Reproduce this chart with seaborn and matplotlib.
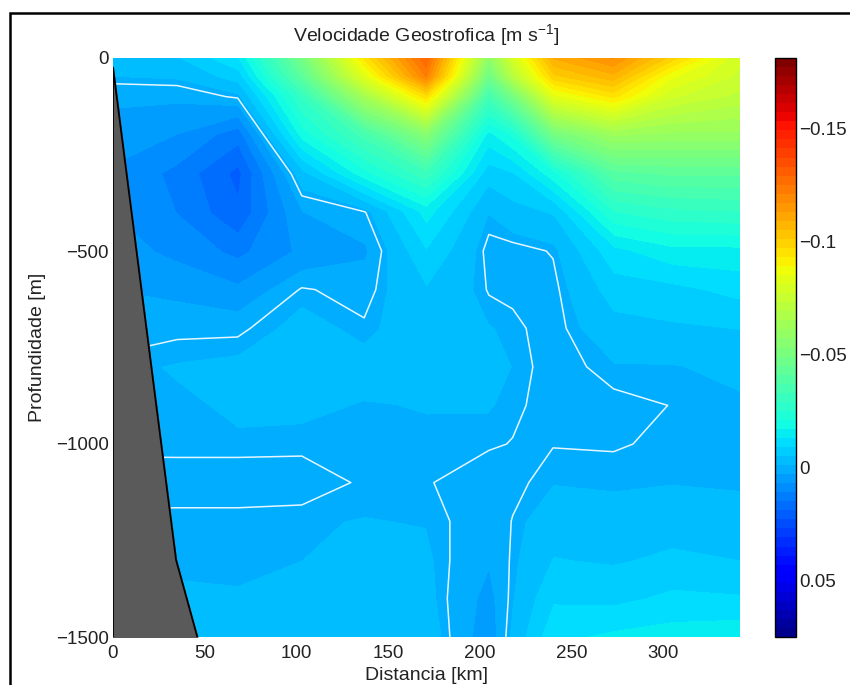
import numpy as np
import matplotlib
matplotlib.use("Agg")
import matplotlib.pyplot as plt
from matplotlib.patches import Rectangle
import seaborn as sns

# Distance of the stations along the section [km]
distance_km = [0, 35, 68, 103, 137, 171, 205, 218, 240, 273, 305, 342]
# Depth levels [m]
depth_m = [0, 50, 100, 200, 300, 400, 500, 600, 700, 800, 900, 1000, 1100, 1200, 1300, 1400, 1500]

# Geostrophic velocity per station [mm/s], one value per depth level
st_000 = [-1.5, -1, 2, 5, 7.5, 7, 5, 3, 1, -0.5, -0.5, -0.5, 1, -0.5, -0.7, -1, -1.5]
st_035 = [-5, -1.5, 2, 7, 12, 11, 8, 4, 0.5, -1.2, -0.7, -0.8, 1.5, -0.8, -0.9, -1.1, -1.5]
st_068 = [-13, -7, -0.5, 13, 20, 18, 12, 6, 0.5, -1.7, -1.3, -0.8, 1.5, -0.8, -0.9, -1.05, -1.6]
st_103 = [-50, -42, -30, -19, -4, 3, 6, -0.3, -2, -2.2, -1.5, -0.5, 1.1, -0.8, -1, -2, -3]
st_137 = [-95, -83, -65, -35, -20, 0.4, 3.5, 1.1, -0.4, -2, -0.9, -0.5, -0.3, -1.1, -2, -3, -4]
st_171 = [-130, -122, -97, -55, -32, -15, -9, -4.8, -3, -2.6, -1.1, -0.7, -0.2, -0.9, -1.5, -2, -3]
st_205 = [-58, -48, -35, -16, -7, -1.2, 0.9, 0.2, -1.2, -2, -1.2, -0.3, 1.5, 1.5, 2.5, 4, 5]
st_218 = [-80, -70, -50, -22, -9, -3.5, 1, 0.5, -0.5, -1, -0.5, 0.1, 0.6, -0.1, -0.4, -0.9, -2]
st_240 = [-110, -100, -84, -49, -20, -5.5, -0.2, 0.8, 1, 1, 1, 0.1, -0.9, -3, -5.2, -8.5, -12]
st_273 = [-118, -108, -95, -62, -40, -25, -12, -7, -3.6, -0.8, 0.6, 0.15, -0.6, -2.5, -4.6, -8, -14]
st_305 = [-100, -86, -78, -60, -42, -28, -16, -8, -4.5, -0.9, -0.05, -0.3, -0.9, -3.3, -5.8, -10, -15]
st_342 = [-78, -76, -72, -60, -42, -29, -16, -10.5, -5.2, -1.6, -0.7, -0.4, -0.8, -1.8, -5, -9.5, -16]
stations = [st_000, st_035, st_068, st_103, st_137, st_171, st_205, st_218, st_240, st_273, st_305, st_342]

# Sea-bed outline
bottom_km = [0, 0, 34.4, 46]
bottom_depth_m = [1500, 25, 1300, 1500]

cb_ticks = [-0.15, -0.1, -0.05, 0, 0.05]
cb_labels = ["\u22120.15", "\u22120.1", "\u22120.05", "0", "0.05"]

sns.set_style("white")
plt.rcParams["font.family"] = ["Liberation Sans", "DejaVu Sans"]
plt.rcParams["mathtext.default"] = "regular"

W, H = 850, 685
fs = 13.5
txt = "#222222"
fig = plt.figure(figsize=(W / 100, H / 100), dpi=100)
fig.add_artist(Rectangle((9.5 / W, -0.1), 1.0, 1.1 - 13 / H, transform=fig.transFigure,
                         fill=False, edgecolor="black", linewidth=1.8))

def box(l, t, r, b):
    return [l / W, 1 - b / H, (r - l) / W, (b - t) / H]

ax = fig.add_axes(box(113, 58, 740, 637))
cax = fig.add_axes(box(775, 58, 796, 637))

X = np.array(distance_km)
Y = -np.array(depth_m)
Z = np.array(stations).T / 1000.0

vmin, vmax = -0.181, 0.075
levels = np.linspace(vmin, vmax, 65)
cmap = sns.color_palette("jet_r", as_cmap=True)
# the colour scale sits slightly off the band edges, as the lighter blues of the reference need
cf = ax.contourf(X, Y, Z, levels=levels, cmap=cmap, vmin=vmin + 0.0015, vmax=vmax + 0.0015)
ax.contour(X, Y, Z, levels=[0], colors="white", linewidths=1.1, alpha=0.9)

bx = np.array(bottom_km)
by = -np.array(bottom_depth_m)
ax.fill_betweenx(by[1:], 0, bx[1:], color="#5a5a5a", zorder=3)
sns.lineplot(x=bx, y=by, color="black", linewidth=1.3, sort=False, estimator=None, ax=ax, zorder=4)

ax.set_xlim(0, 342)
ax.set_ylim(-1500, 0)
ax.set_xticks([0, 50, 100, 150, 200, 250, 300])
ax.set_yticks([0, -500, -1000, -1500])
ax.set_yticklabels(["0", "\u2212500", "\u22121000", "\u22121500"])
ax.tick_params(axis="x", length=0, labelsize=fs, pad=6, colors=txt)
ax.tick_params(axis="y", length=0, labelsize=fs, pad=3, colors=txt)
for s in ax.spines.values():
    s.set_visible(False)
ax.set_title("Velocidade Geostrofica [m s$^{-1}$]", fontsize=14, pad=12, color=txt)
ax.set_xlabel("Distancia [km]", fontsize=14, labelpad=3, color=txt)
ax.set_ylabel("Profundidade [m]", fontsize=14, labelpad=7, color=txt)

cb = fig.colorbar(cf, cax=cax)
cax.set_ylim(vmax, vmin)
cax.set_yticks(cb_ticks)
cax.set_yticklabels(cb_labels)
cax.tick_params(axis="y", direction="in", left=True, right=True, length=5, width=0.9,
                labelsize=fs, pad=2, colors=txt)
cb.outline.set_edgecolor("black")
cb.outline.set_linewidth(1.0)

fig.savefig("out.png", dpi=100)
